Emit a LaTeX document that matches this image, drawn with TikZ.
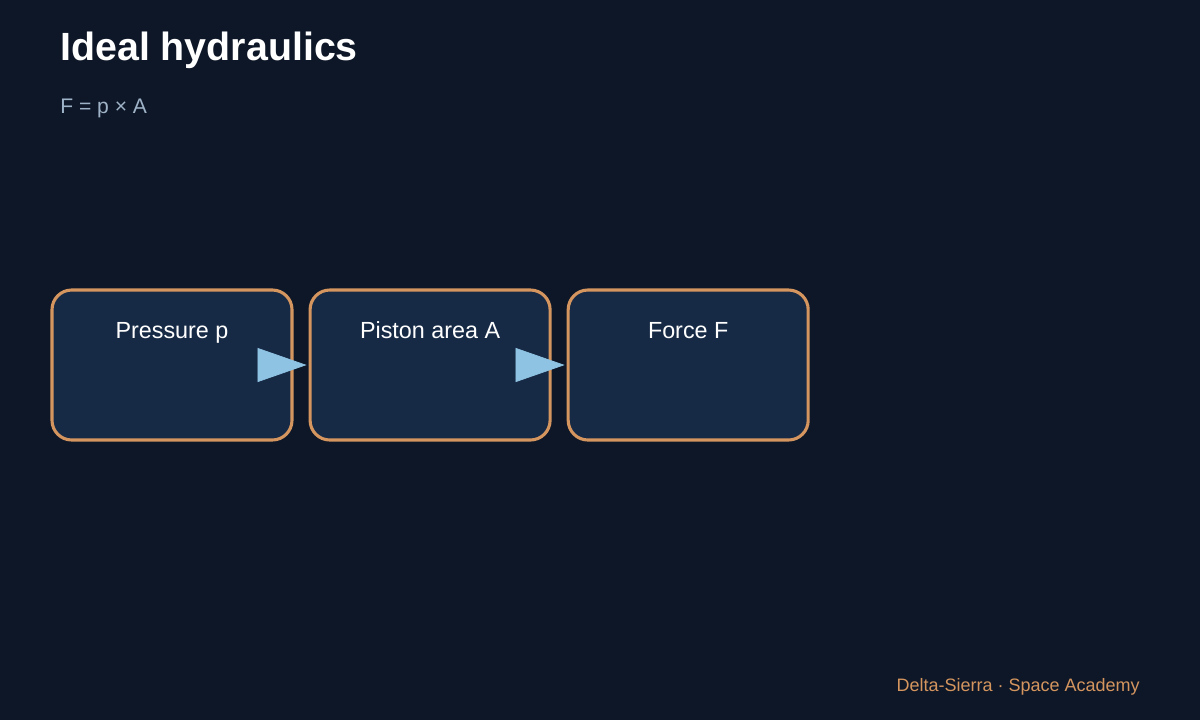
\documentclass[tikz,border=0pt]{standalone}
\usepackage{fontspec}
\setmainfont{Liberation Sans}
\usetikzlibrary{positioning,arrows.meta}

\definecolor{bgdark}{HTML}{0E1727}
\definecolor{boxfill}{HTML}{172A45}
\definecolor{boxedge}{HTML}{D4955F}
\definecolor{flowblue}{HTML}{8EC3E3}
\definecolor{subgrey}{HTML}{9FB3C8}

\tikzset{
    stage/.style={draw=boxedge, fill=boxfill, line width=2.2pt, rounded corners=14pt,
        minimum width=6cm, minimum height=3.75cm},
    stagetext/.style={anchor=base, text=white, font=\fontsize{16.6}{20}\selectfont},
    flow/.style={draw=flowblue, line width=0.5pt, shorten >=0.05cm,
        -{Triangle[length=1.225cm, width=0.85cm, fill=flowblue]}}
}

\begin{document}
\begin{tikzpicture}
    %% background
    \fill[bgdark] (0,0) rectangle (30,-18);

    %% heading
    \node[anchor=base west, text=white, font=\bfseries\fontsize{28}{33}\selectfont, inner sep=0pt] (title) at (1.5,-1.5) {Ideal hydraulics};
    \node[anchor=base west, text=subgrey, font=\fontsize{15}{18}\selectfont, inner sep=0pt] (formula) at (1.5,-2.825) {F = p × A};

    %% chain
    \node[stage] (pressure) at (4.3,-9.125) {};
    \node[stage, right=0.375cm of pressure] (area) {};
    \node[stage, right=0.375cm of area] (force) {};

    \node[stagetext] (pressurelbl) at ([yshift=-1.25cm]pressure.north) {Pressure p};
    \node[stagetext] (arealbl) at ([yshift=-1.25cm]area.north) {Piston area A};
    \node[stagetext] (forcelbl) at ([yshift=-1.25cm]force.north) {Force F};

    \draw[flow] (pressure.east) -- (area.west);
    \draw[flow] (area.east) -- (force.west);

    %% footer
    \node[anchor=base east, text=boxedge, font=\fontsize{12.8}{15}\selectfont, inner sep=0pt] (footer) at (28.5,-17.275) {Delta-Sierra · Space Academy};
\end{tikzpicture}
\end{document}
